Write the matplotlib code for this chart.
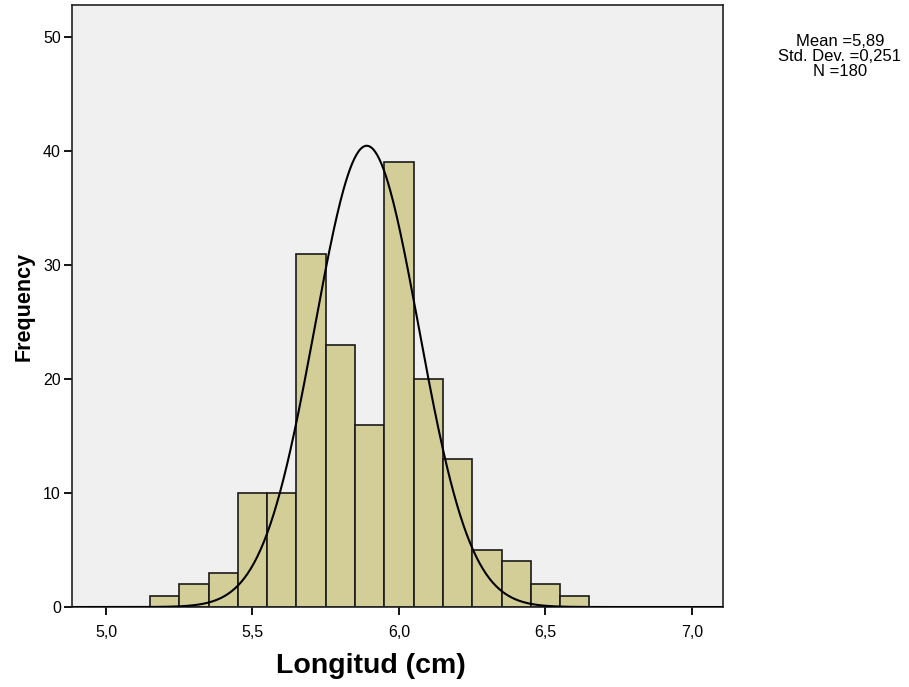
import numpy as np
import matplotlib.pyplot as plt

plt.rcParams['font.family'] = ['Liberation Sans', 'DejaVu Sans']

bin_left = [5.15, 5.25, 5.35, 5.45, 5.55, 5.65, 5.75, 5.85, 5.95, 6.05, 6.15, 6.25, 6.35, 6.45, 6.55]
counts = [1, 2, 3, 10, 10, 31, 23, 16, 39, 20, 13, 5, 4, 2, 1]
bin_width = 0.1
mean = 5.89
std_dev = 0.251
n = 180
curve_sd = 0.1775  # width of the drawn curve
xticks = [5.0, 5.5, 6.0, 6.5, 7.0]
xtick_labels = ["5,0", "5,5", "6,0", "6,5", "7,0"]
yticks = [0, 10, 20, 30, 40, 50]

fig = plt.figure(figsize=(9.09, 6.87), dpi=100)
ax = fig.add_axes([0.0792, 0.1164, 0.7162, 0.8763])
ax.set_facecolor("#f0f0f0")

ax.bar(bin_left, counts, width=bin_width, align="edge",
       color="#d3ce97", edgecolor="#1a1a1a", linewidth=1.2, zorder=2)

xs = np.linspace(4.88, 7.11, 600)
ys = n * bin_width / (curve_sd * np.sqrt(2 * np.pi)) * np.exp(-0.5 * ((xs - mean) / curve_sd) ** 2)
ax.plot(xs, ys, color="black", linewidth=1.5, zorder=3)

ax.set_xlim(4.884, 7.106)
ax.set_ylim(0, 52.8)
ax.set_xticks(xticks)
ax.set_xticklabels(xtick_labels)
ax.set_yticks(yticks)
ax.tick_params(axis="both", labelsize=11.5, length=6, width=1.3, direction="out", pad=7)
ax.tick_params(axis="y", pad=2)
for s in ax.spines.values():
    s.set_linewidth(1.2)
    s.set_color("#222222")

ax.set_xlabel("Longitud (cm)", fontsize=20.5, fontweight="bold")
ax.xaxis.set_label_coords(0.459, -0.077)
ax.set_ylabel("Frequency", fontsize=15.5, fontweight="bold", labelpad=6)

fig.text(0.924, 0.95, "Mean =5,89\nStd. Dev. =0,251\nN =180",
         ha="center", va="top", fontsize=12, linespacing=1.0)

fig.savefig("out.png", dpi=100)
